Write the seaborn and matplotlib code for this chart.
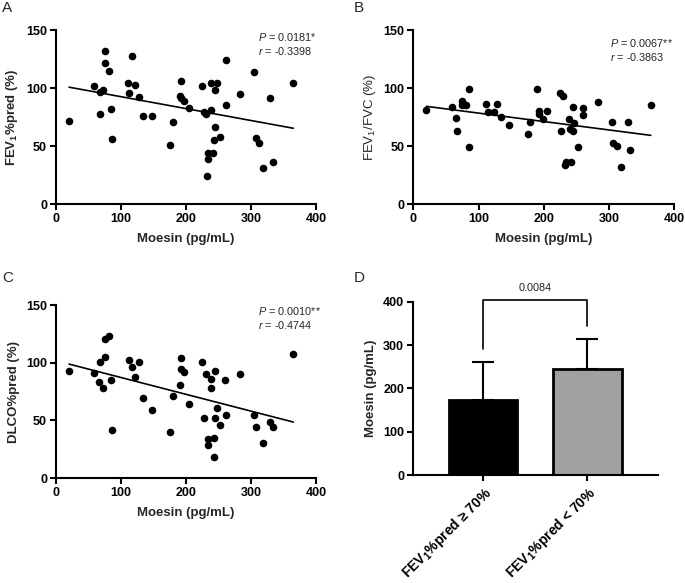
import numpy as np
import pandas as pd
import matplotlib
matplotlib.use("Agg")
import matplotlib.pyplot as plt
import seaborn as sns

# -----------------------------
# 1. Data
# -----------------------------
# Panel A: moesin vs FEV1 %pred
moesin_a = [20, 59, 67, 73, 75, 75, 81, 67, 85, 86, 111, 117, 113, 122, 128, 134,
            147, 176, 180, 190, 193, 193, 197, 205, 225, 228, 230, 239, 239, 247,
            245, 261, 261, 245, 243, 253, 234, 242, 234, 233, 283, 305, 329, 365,
            307, 312, 319, 333]
fev1_pred = [72, 102, 97, 98, 132, 122, 115, 78, 82, 56, 104, 128, 96, 103, 92, 76,
             76, 51, 71, 93, 106, 91, 89, 83, 102, 79, 78, 81, 104, 104,
             98, 124, 85, 66, 55, 58, 44, 44, 39, 24, 95, 114, 91, 104,
             57, 53, 31, 36]

# Panel B: moesin vs FEV1/FVC
moesin_b = [20, 60, 66, 67, 75, 74, 81, 85, 86, 111, 115, 123, 128, 134, 147, 176,
            179, 190, 192, 193, 198, 205, 225, 230, 227, 238, 240, 244, 246, 245,
            233, 234, 242, 252, 260, 260, 283, 304, 306, 312, 318, 329, 332, 364]
fev1_fvc = [81, 84, 74, 63, 89, 85, 85, 99, 49, 86, 79, 79, 86, 75, 68, 60,
            71, 99, 80, 78, 73, 80, 96, 93, 63, 73, 65, 63, 70, 84,
            34, 36, 36, 49, 83, 77, 88, 71, 53, 50, 32, 71, 47, 85]

# Panel C: moesin vs DLCO %pred
moesin_c = [20, 59, 66, 67, 73, 75, 75, 81, 85, 86, 113, 117, 127, 122, 134, 147,
            176, 180, 190, 193, 192, 197, 205, 225, 230, 239, 239, 245, 260, 227,
            247, 245, 253, 261, 234, 234, 243, 243, 283, 304, 307, 319, 329, 333, 365]
dlco_pred = [93, 91, 83, 101, 78, 105, 121, 123, 85, 42, 102, 96, 101, 88, 69, 59,
             40, 71, 81, 104, 95, 92, 64, 101, 90, 86, 78, 93, 85, 52,
             61, 52, 46, 55, 34, 29, 35, 18, 90, 55, 44, 30, 49, 44, 108]

stats_a = ("0.0181*", "-0.3398")
stats_b = ("0.0067**", "-0.3863")
stats_c = ("0.0010**", "-0.4744")

# Panel D: moesin by FEV1 group (mean + SD)
groups = ["high", "low"]
group_labels = [r"FEV$_\mathbf{1}$%pred ≥ 70%", r"FEV$_\mathbf{1}$%pred < 70%"]
group_means = [172, 245]
group_sd = [89, 68]
bar_colors = ["black", "#a0a0a0"]
p_value_d = "0.0084"
bracket_top = 405

# -----------------------------
# 2. Style
# -----------------------------
sns.set_style("ticks")
plt.rcParams["font.family"] = ["Liberation Sans", "DejaVu Sans"]
plt.rcParams["mathtext.fontset"] = "custom"
plt.rcParams["mathtext.rm"] = "Liberation Sans"
plt.rcParams["mathtext.it"] = "Liberation Sans:italic"
plt.rcParams["mathtext.bf"] = "Liberation Sans:bold"


def style_axis(ax):
    sns.despine(ax=ax)
    for side in ["left", "bottom"]:
        ax.spines[side].set_linewidth(1.5)
        ax.spines[side].set_color("black")
    ax.tick_params(direction="out", length=4.5, width=1.5, colors="black",
                   labelsize=9, pad=2)
    for lab in ax.get_xticklabels() + ax.get_yticklabels():
        lab.set_fontweight("bold")


def scatter_panel(ax, x, y, ylabel, stats, text_xy, ylabel_weight="bold"):
    df = pd.DataFrame({"x": x, "y": y})
    sns.regplot(data=df, x="x", y="y", ax=ax, ci=None, color="black",
                scatter_kws={"s": 30, "alpha": 1, "linewidths": 0},
                line_kws={"linewidth": 1.2})
    ax.set_xlim(0, 400)
    ax.set_ylim(0, 150)
    ax.set_xticks([0, 100, 200, 300, 400])
    ax.set_yticks([0, 50, 100, 150])
    ax.set_xlabel("Moesin (pg/mL)", fontsize=9.5, fontweight="bold", labelpad=6)
    ax.set_ylabel(ylabel, fontsize=9.5, fontweight=ylabel_weight, labelpad=4)
    style_axis(ax)
    tx, ty = text_xy
    ax.text(tx, ty, r"$\it{P}$ = " + stats[0] + "\n" + r"$\it{r}$ = " + stats[1],
            transform=ax.transAxes, fontsize=7.8, va="top", ha="left",
            linespacing=1.2)


fig = plt.figure(figsize=(6.85, 5.83), dpi=100)

ax_a = fig.add_axes([0.0818, 0.650, 0.3796, 0.2985])
ax_b = fig.add_axes([0.6034, 0.650, 0.3810, 0.2985])
ax_c = fig.add_axes([0.0818, 0.180, 0.3796, 0.2967])
ax_d = fig.add_axes([0.6030, 0.1852, 0.3577, 0.2973])

# -----------------------------
# 3. Scatter panels A-C
# -----------------------------
scatter_panel(ax_a, moesin_a, fev1_pred, r"FEV$_\mathbf{1}$%pred (%)", stats_a, (0.778, 0.995))
scatter_panel(ax_b, moesin_b, fev1_fvc, r"FEV$_1$/FVC (%)", stats_b, (0.754, 0.96),
              ylabel_weight="normal")
scatter_panel(ax_c, moesin_c, dlco_pred, "DLCO%pred (%)", stats_c, (0.778, 1.0))

# -----------------------------
# 4. Bar panel D
# -----------------------------
sns.barplot(x=groups, y=group_means, hue=groups, palette=bar_colors, legend=False,
            width=0.66, edgecolor="black", linewidth=2, ax=ax_d, zorder=2)
ax_d.errorbar([0, 1], group_means, yerr=[[0, 0], group_sd], fmt="none",
              ecolor="black", elinewidth=1.5, capsize=8, capthick=1.5, zorder=1)

leg_bottom = [m + s + 30 for m, s in zip(group_means, group_sd)]
ax_d.plot([0, 0, 1, 1], [leg_bottom[0], bracket_top, bracket_top, leg_bottom[1]],
          color="black", linewidth=1.2, clip_on=False)
ax_d.text(0.5, bracket_top + 14, p_value_d, ha="center", va="bottom", fontsize=7.8)

ax_d.set_xlim(-0.67, 1.68)
ax_d.set_ylim(0, 400)
ax_d.set_yticks([0, 100, 200, 300, 400])
ax_d.set_ylabel("Moesin (pg/mL)", fontsize=9.5, fontweight="bold", labelpad=4)
ax_d.set_xlabel("")
ax_d.set_xticks([0, 1])
ax_d.set_xticklabels(group_labels, rotation=45, ha="right", rotation_mode="anchor")
style_axis(ax_d)
for lab in ax_d.get_xticklabels():
    lab.set_fontsize(10)

# panel letters
fig.text(0.003, 0.998, "A", fontsize=11, va="top", ha="left")
fig.text(0.516, 0.998, "B", fontsize=11, va="top", ha="left")
fig.text(0.003, 0.535, "C", fontsize=11, va="top", ha="left")
fig.text(0.516, 0.535, "D", fontsize=11, va="top", ha="left")

fig.savefig("out.png", dpi=100)
